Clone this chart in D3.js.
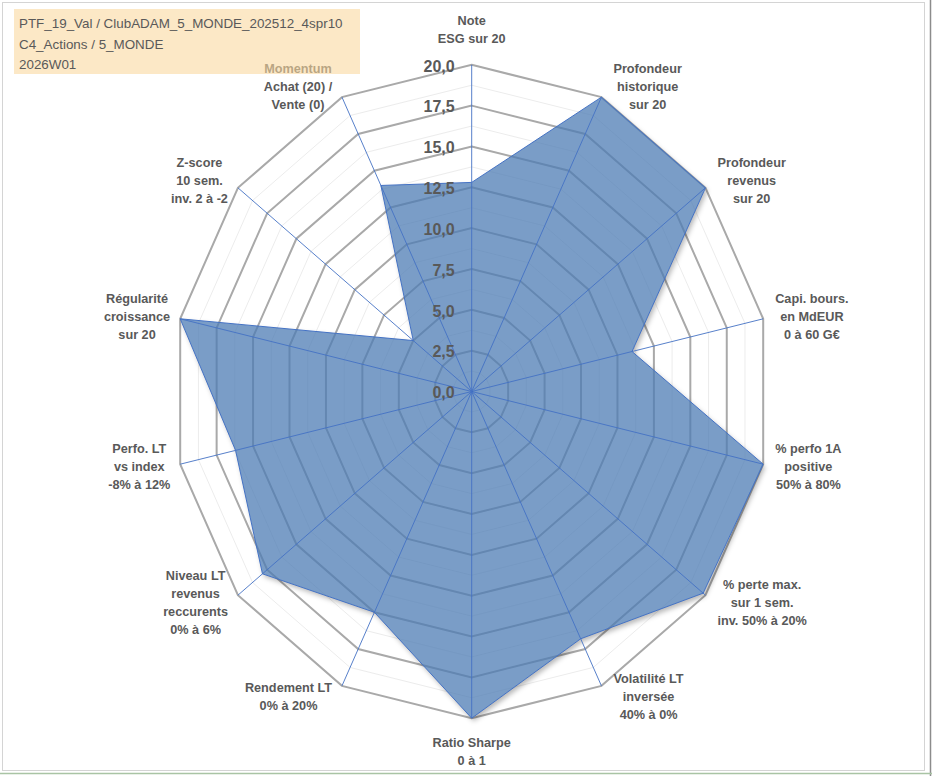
<!DOCTYPE html>
<html>
<head>
<meta charset="utf-8">
<title>Radar PTF_19_Val</title>
<script src="https://d3js.org/d3.v7.min.js"></script>
<style>
  body { margin: 0; background: #fff; }
  svg text { font-family: "Liberation Sans", Arial, sans-serif; }
</style>
</head>
<body>
<div id="my_dataviz"></div>
<script>
// axis names (one entry per spoke, lines split by \n)
const categories = [
  "Note\nESG sur 20",
  "Profondeur\nhistorique\nsur 20",
  "Profondeur\nrevenus\nsur 20",
  "Capi. bours.\nen MdEUR\n0 à 60 G€",
  "% perfo 1A\npositive\n50% à 80%",
  "% perte max.\nsur 1 sem.\ninv. 50% à 20%",
  "Volatilité LT\ninversée\n40% à 0%",
  "Ratio Sharpe\n0 à 1",
  "Rendement LT\n0% à 20%",
  "Niveau LT\nrevenus\nreccurents\n0% à 6%",
  "Perfo. LT\nvs index\n-8% à 12%",
  "Régularité\ncroissance\nsur 20",
  "Z-score\n10 sem.\ninv. 2 à -2",
  "Momentum\nAchat (20) /\nVente (0)"
];
// scores (0..20)
const values = [12.8, 20, 20, 11.0, 20, 19.8, 16.8, 20, 15.0, 17.9, 16.2, 20, 5.0, 14.0];
// radial ticks
const ticks = [0, 2.5, 5, 7.5, 10, 12.5, 15, 17.5, 20];
const tickLabels = ["0,0", "2,5", "5,0", "7,5", "10,0", "12,5", "15,0", "17,5", "20,0"];
const minorTicks = [1.25, 3.75, 6.25, 8.75, 11.25, 13.75, 16.25, 18.75];
const titleLines = ["PTF_19_Val / ClubADAM_5_MONDE_202512_4spr10", "C4_Actions / 5_MONDE", "2026W01"];

const W = 932, H = 776;
const cx = 471.7, cy = 391.5;
const n = categories.length;

const svg = d3.select("#my_dataviz").append("svg")
  .attr("width", W).attr("height", H);

// the picture is a bit squeezed horizontally, so x and y radii differ
const rX = d3.scaleLinear().domain([0, 20]).range([0, 299]);
const rY = d3.scaleLinear().domain([0, 20]).range([0, 326.7]);
const ang = d3.scaleLinear().domain([0, n]).range([0, 2 * Math.PI]);

function pt(i, v) {
  const a = ang(i);
  return [cx + rX(v) * Math.sin(a), cy - rY(v) * Math.cos(a)];
}
function ring(v) {
  return d3.range(n).map(i => pt(i, v));
}

const line = d3.line().curve(d3.curveLinearClosed);
const areaPath = line(values.map((v, i) => pt(i, v)));

const defs = svg.append("defs");
defs.append("filter").attr("id", "blur")
  .attr("x", "-10%").attr("y", "-10%").attr("width", "130%").attr("height", "130%")
  .append("feGaussianBlur").attr("stdDeviation", 2.5);
// shadow only outside the area, so it does not darken the transparent fill
const mask = defs.append("mask").attr("id", "outside");
mask.append("rect").attr("width", W).attr("height", H).attr("fill", "#fff");
mask.append("path").attr("d", areaPath).attr("fill", "#000");

// frame
svg.append("rect").attr("x", 2.5).attr("y", 2.5).attr("width", 922).attr("height", 768)
  .attr("fill", "#fff").attr("stroke", "#d4d4d4").attr("stroke-width", 1);
svg.append("line").attr("x1", 930.5).attr("x2", 930.5).attr("y1", 0).attr("y2", 776)
  .attr("stroke", "#8c8c8c").attr("stroke-width", 1.5);
svg.append("line").attr("x1", 0).attr("x2", 932).attr("y1", 773.5).attr("y2", 773.5)
  .attr("stroke", "#a9c4a4").attr("stroke-width", 1.5);

// minor rings
svg.append("g").selectAll("path").data(minorTicks).join("path")
  .attr("d", d => line(ring(d)))
  .attr("fill", "none").attr("stroke", "#ececec").attr("stroke-width", 1);

// major rings
svg.append("g").selectAll("path").data(ticks.filter(t => t > 0)).join("path")
  .attr("d", d => line(ring(d)))
  .attr("fill", "none").attr("stroke", "#a9a9a9").attr("stroke-width", 2);

// shadow of the series area
svg.append("g").attr("mask", "url(#outside)")
  .append("path")
  .attr("d", areaPath)
  .attr("transform", "translate(2,3)")
  .attr("fill", "#000").attr("fill-opacity", 0.28)
  .attr("filter", "url(#blur)");

// series area
svg.append("path")
  .datum(values)
  .attr("d", areaPath)
  .attr("fill", "#4c7bb3").attr("fill-opacity", 0.74)
  .attr("stroke", "#4472c4").attr("stroke-width", 1);

// spokes
svg.append("g").selectAll("line").data(d3.range(n)).join("line")
  .attr("x1", cx).attr("y1", cy)
  .attr("x2", i => pt(i, 20)[0]).attr("y2", i => pt(i, 20)[1])
  .attr("stroke", "#4472c4").attr("stroke-width", 0.9);

// tick labels
svg.append("g").selectAll("text").data(ticks).join("text")
  .attr("x", cx - 17)
  .attr("y", d => cy - rY(d) + 1)
  .attr("dy", "0.36em")
  .attr("text-anchor", "end")
  .attr("font-size", 16).attr("font-weight", "bold")
  .attr("fill", "#595959")
  .text((d, i) => tickLabels[i]);

// category labels
const lh = 18;
const lab = svg.append("g");
categories.forEach((c, i) => {
  const lines = c.split("\n");
  const a = ang(i);
  const s = Math.sin(a), co = Math.cos(a);
  const [vx, vy] = pt(i, 20);
  let x, anchor, yc;
  const h = lines.length * lh;
  if (s > 0.1) { x = vx + 12; anchor = "start"; }
  else if (s < -0.1) { x = vx - 10; anchor = "end"; }
  else { x = vx; anchor = "middle"; }
  if (Math.abs(s) > 0.1) yc = vy - co * 12;
  else if (co > 0) yc = vy - 17 - h / 2;
  else yc = vy + 15 + h / 2;
  const t = lab.append("text")
    .attr("font-size", 12.7).attr("font-weight", "bold")
    .attr("fill", "#595959");
  lines.forEach((l, k) => {
    t.append("tspan")
      .attr("x", x)
      .attr("y", yc - h / 2 + lh * k + lh / 2)
      .attr("dy", "0.35em")
      .attr("text-anchor", anchor)
      .text(l);
  });
  // side labels: centre every line on the block
  if (anchor !== "middle") {
    const bb = t.node().getBBox();
    const mid = bb.x + bb.width / 2;
    t.selectAll("tspan").attr("x", mid).attr("text-anchor", "middle");
  }
});

// title box (drawn over the Momentum label like in Excel)
svg.append("rect").attr("x", 14).attr("y", 9).attr("width", 346).attr("height", 65)
  .attr("fill", "#fad9a0").attr("fill-opacity", 0.6);
svg.append("g").selectAll("text").data(titleLines).join("text")
  .attr("x", 19)
  .attr("y", (d, i) => 28 + i * 20.5)
  .attr("font-size", 13.4)
  .attr("fill", "#595959")
  .text(d => d);
</script>
</body>
</html>
